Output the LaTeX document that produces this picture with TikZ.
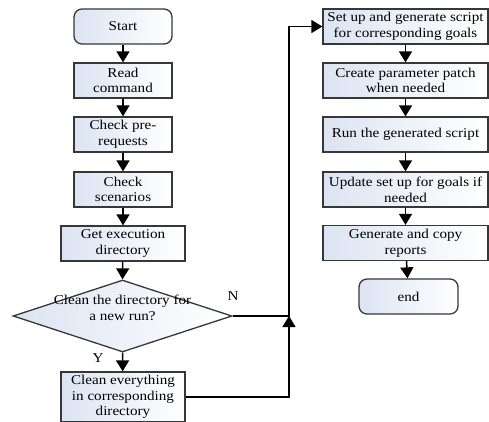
\documentclass[tikz,border=0pt]{standalone}
\usepackage{fontspec}
\setmainfont{Liberation Serif}[FakeStretch=1.12]
\usetikzlibrary{arrows.meta,shapes.geometric}
\definecolor{boxedge}{RGB}{55,55,55}
\definecolor{boxtint}{RGB}{220,228,242}
\tikzset{
  every node/.style={font=\fontsize{13.5bp}{15.7bp}\selectfont, inner sep=0pt},
  stepbox/.style={draw=boxedge, line width=1.3bp, left color=boxtint, right color=white, align=center},
  termbox/.style={stepbox, rounded corners=8bp},
  flow/.style={draw=black, line width=1.5bp, -{Triangle[width=13bp,length=11bp]}},
  plain/.style={draw=black, line width=1.5bp},
}
\begin{document}
\begin{tikzpicture}[x=1bp,y=-1bp]
\useasboundingbox (0,0) rectangle (489,421);
\begin{scope}
\clip (0,0) rectangle (489,421);
% left column
\node[termbox, minimum width=98bp, minimum height=35bp] (start) at (123,26.5) {Start};
\node[stepbox, minimum width=98bp, minimum height=35bp] (read) at (123,80.5) {Read\\command};
\node[stepbox, minimum width=98bp, minimum height=35bp] (pre) at (123,134.5) {Check pre-\\requests};
\node[stepbox, minimum width=98bp, minimum height=35bp] (scen) at (123,189.5) {Check\\scenarios};
\node[stepbox, minimum width=124bp, minimum height=35bp] (exec) at (123,243.5) {Get execution\\directory};
\node[diamond, draw=boxedge, line width=1.3bp, left color=boxtint, right color=white, minimum width=219bp, minimum height=72bp, aspect=3.04] (dia) at (122.5,316) {};
\node[align=center] (diatext) at (122.5,308) {Clean the directory for\\a new run?};
\node[stepbox, minimum width=124bp, minimum height=50bp] (clean) at (123,397) {Clean everything\\in corresponding\\directory};
% right column
\node[stepbox, minimum width=165bp, minimum height=35bp] (setup) at (405.5,26.5) {Set up and generate script\\for corresponding goals};
\node[stepbox, minimum width=165bp, minimum height=35bp] (patch) at (405.5,80.5) {Create parameter patch\\when needed};
\node[stepbox, minimum width=165bp, minimum height=35bp] (run) at (405.5,134.5) {Run the generated script};
\node[stepbox, minimum width=165bp, minimum height=35bp] (update) at (405.5,189.5) {Update set up for goals if\\needed};
\node[stepbox, minimum width=165bp, minimum height=35bp] (gen) at (405.5,243) {Generate and copy\\reports};
\node[termbox, minimum width=99bp, minimum height=35bp] (end) at (408.5,296.5) {end};
% labels
\node (nlab) at (233,296) {N};
\node (ylab) at (98,358) {Y};
\coordinate (junc) at (289,316);
% connectors
\draw[flow] (start) -- (read);
\draw[flow] (read) -- (pre);
\draw[flow] (pre) -- (scen);
\draw[flow] (scen) -- (exec);
\draw[flow] (exec) -- (dia.north);
\draw[flow] (dia.south) -- (clean);
\draw[flow] (dia.east) -- (junc) |- (setup.west);
\draw[flow] (clean.east) -| (junc);
\draw[flow] (setup) -- (patch);
\draw[flow] (patch) -- (run);
\draw[flow] (run) -- (update);
\draw[flow] (update) -- (gen);
\draw[flow] (gen) -- (end);
\end{scope}
\end{tikzpicture}
\end{document}
